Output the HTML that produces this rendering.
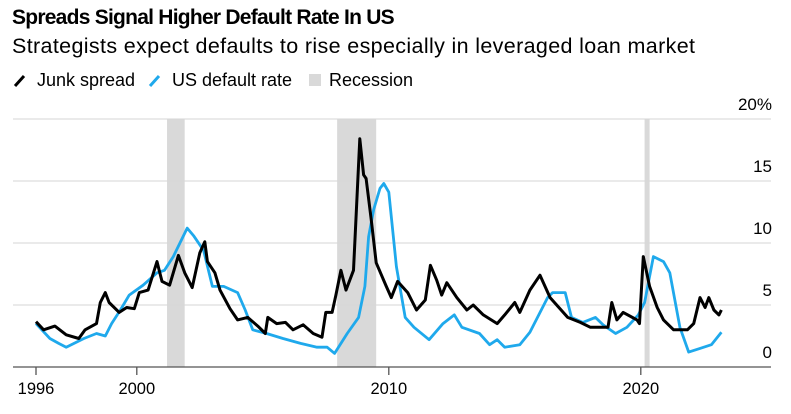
<!DOCTYPE html>
<html><head><meta charset="utf-8"><style>
body{margin:0;background:#fff;font-family:"Liberation Sans",sans-serif}
svg text{font-family:"Liberation Sans",sans-serif}
</style></head><body>
<svg width="791" height="409" viewBox="0 0 791 409">
<text x="12" y="24" font-size="21" font-weight="bold" letter-spacing="-0.75" fill="#000">Spreads Signal Higher Default Rate In US</text>
<text x="12" y="53" font-size="21.5" letter-spacing="0.35" fill="#000">Strategists expect defaults to rise especially in leveraged loan market</text>
<g>
<line x1="15" y1="86" x2="24" y2="76" stroke="#000" stroke-width="3"/>
<text x="37" y="86" font-size="18">Junk spread</text>
<line x1="150" y1="86" x2="159" y2="76" stroke="#1fa9ec" stroke-width="3"/>
<text x="172" y="86" font-size="18">US default rate</text>
<rect x="309" y="74" width="12" height="12" fill="#d9d9d9"/>
<text x="329" y="86" font-size="18">Recession</text>
</g>
<g id="plot"></g>
</svg>
<script>
const recessionStarts=[2001.2,2007.95,2020.15];
const recessionEnds=[2001.9,2009.5,2020.35];
const yTicks=[0,5,10,15,20];
const yTickLabels=["0","5","10","15","20%"];
const xTicks=[1996,2000,2010,2020];
const junkYears=[1996.0,1996.3,1996.75,1997.2,1997.7,1997.95,1998.4,1998.55,1998.75,1998.9,1999.3,1999.6,1999.9,2000.1,2000.45,2000.8,2001.0,2001.3,2001.65,2001.9,2002.2,2002.5,2002.7,2002.8,2003.1,2003.3,2003.7,2004.0,2004.4,2004.8,2005.1,2005.2,2005.55,2005.9,2006.2,2006.6,2007.0,2007.35,2007.5,2007.75,2007.9,2008.1,2008.3,2008.6,2008.85,2009.0,2009.1,2009.3,2009.5,2009.9,2010.1,2010.35,2010.75,2011.1,2011.45,2011.65,2011.9,2012.1,2012.3,2012.7,2013.1,2013.35,2013.75,2014.3,2014.6,2015.0,2015.2,2015.6,2016.0,2016.4,2017.1,2017.6,2018.0,2018.7,2018.85,2019.05,2019.3,2019.85,2019.95,2020.1,2020.35,2020.65,2020.9,2021.3,2021.85,2022.1,2022.35,2022.55,2022.7,2022.9,2023.1,2023.2];
const junkValues=[3.65,3.0,3.3,2.6,2.3,3.0,3.5,5.2,6.0,5.2,4.4,4.8,4.7,6.0,6.2,8.5,6.9,6.6,9.0,7.6,6.4,9.2,10.1,8.5,7.6,6.2,4.7,3.8,4.0,3.3,2.7,4.0,3.5,3.6,3.0,3.4,2.7,2.4,4.4,4.4,5.8,7.8,6.2,7.8,18.4,15.5,15.2,11.9,8.4,6.5,5.6,6.9,6.0,4.6,5.4,8.2,7.0,5.8,6.8,5.6,4.6,5.0,4.2,3.5,4.2,5.2,4.4,6.2,7.4,5.6,4.0,3.6,3.2,3.2,5.2,3.8,4.4,3.8,3.5,8.9,6.5,4.8,3.8,3.0,3.0,3.5,5.6,4.8,5.6,4.6,4.2,4.6];
const defaultYears=[1996.0,1996.55,1996.9,1997.2,1997.9,1998.4,1998.75,1999.0,1999.35,1999.7,2000.25,2000.8,2001.1,2001.45,2002.0,2002.25,2002.65,2003.0,2003.45,2004.0,2004.3,2004.6,2005.15,2005.8,2006.5,2007.15,2007.55,2007.85,2008.35,2008.8,2009.05,2009.2,2009.4,2009.65,2009.8,2010.0,2010.3,2010.65,2011.0,2011.6,2012.15,2012.6,2012.9,2013.6,2014.0,2014.3,2014.6,2015.2,2015.6,2015.9,2016.3,2016.5,2017.0,2017.25,2017.7,2018.2,2018.5,2019.0,2019.45,2019.9,2020.15,2020.5,2020.9,2021.15,2021.55,2021.9,2022.35,2022.8,2023.2];
const defaultValues=[3.5,2.3,1.9,1.6,2.3,2.7,2.5,3.5,4.6,5.8,6.6,7.6,7.8,8.9,11.2,10.6,9.4,6.5,6.5,6.0,4.6,3.0,2.7,2.3,1.9,1.6,1.6,1.1,2.7,4.0,6.5,10.5,12.7,14.4,14.8,14.1,8.1,4.0,3.2,2.2,3.5,4.2,3.2,2.7,1.8,2.2,1.6,1.8,2.8,4.0,5.6,6.0,6.0,4.0,3.6,4.0,3.4,2.7,3.2,4.2,5.2,8.9,8.5,7.6,3.2,1.2,1.5,1.8,2.8];
const NS="http://www.w3.org/2000/svg";
const plot=document.getElementById('plot');
const X=y=>36+(y-1996)*25.2;
const Y=v=>367-v*12.4;
function mk(t,a){const e=document.createElementNS(NS,t);for(const k in a)e.setAttribute(k,a[k]);plot.appendChild(e);return e;}
recessionStarts.forEach((s,i)=>{
const r=mk('rect',{x:X(s),y:119,width:X(recessionEnds[i])-X(s),height:248,fill:'#d9d9d9'});


});
yTicks.forEach((t,i)=>{
if(t>0){const l=mk('line',{x1:13,x2:771,y1:Y(t),y2:Y(t),stroke:'#d6d6d6','stroke-width':1});

}
const tx=mk('text',{x:772,y:Y(t)-9,'text-anchor':'end','font-size':17,fill:'#000'});
tx.textContent=yTickLabels[i];


});
const ax=mk('line',{x1:13,x2:771,y1:367,y2:367,stroke:'#555','stroke-width':1.3});


xTicks.forEach(t=>{
const l=mk('line',{x1:X(t),x2:X(t),y1:367,y2:375,stroke:'#555','stroke-width':1.3});


const tx=mk('text',{x:X(t),y:394,'text-anchor':'middle','font-size':16.5,fill:'#000'});
tx.textContent=t;


});
function path(xs,vs,c,w,name){
const d=xs.map((x,i)=>(i?'L':'M')+X(x).toFixed(1)+','+Y(vs[i]).toFixed(1)).join('');
const p=mk('path',{d:d,fill:'none',stroke:c,'stroke-width':w,'stroke-linejoin':'round'});


}
path(defaultYears,defaultValues,'#1fa9ec',2.8,'default-rate-line');
path(junkYears,junkValues,'#000',3,'junk-spread-line');
</script>
</body></html>
